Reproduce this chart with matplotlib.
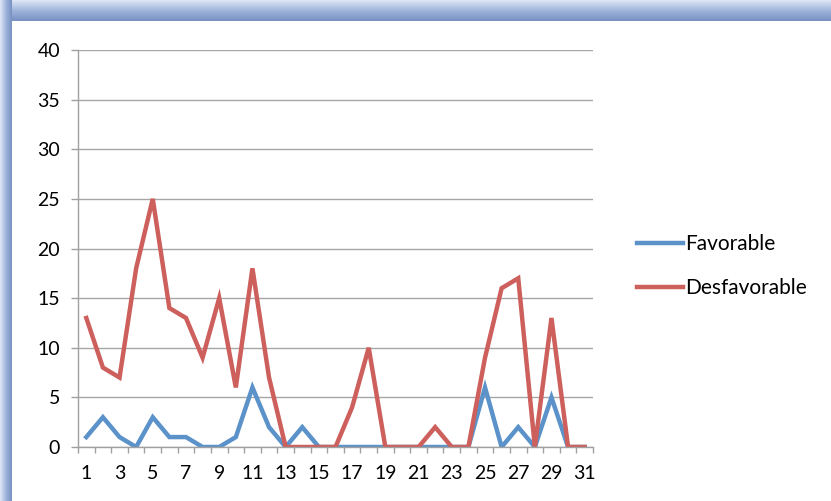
import numpy as np
import matplotlib
matplotlib.use("Agg")
import matplotlib.pyplot as plt
from matplotlib.patches import Rectangle

days = list(range(1, 32))
favorable = [1, 3, 1, 0, 3, 1, 1, 0, 0, 1, 6, 2, 0, 2, 0, 0, 0, 0, 0, 0,
             0, 0, 0, 0, 6, 0, 2, 0, 5, 0, 0]
desfavorable = [13, 8, 7, 18, 25, 14, 13, 9, 15, 6, 18, 7, 0, 0, 0, 0, 4, 10, 0, 0,
                0, 2, 0, 0, 9, 16, 17, 0, 13, 0, 0]
series_names = ["Favorable", "Desfavorable"]
y_ticks = [0, 5, 10, 15, 20, 25, 30, 35, 40]

W, H = 831, 501
plt.rcParams['font.family'] = ['Lato', 'DejaVu Sans']

fig = plt.figure(figsize=(W / 100, H / 100), dpi=100)

# window-like blue frame at top and left
bg = fig.add_axes([0, 0, 1, 1])
bg.set_xlim(0, W)
bg.set_ylim(H, 0)
bg.axis('off')
grad = np.linspace(0, 1, 64)
top = np.outer(grad, np.ones(2))
cmap = matplotlib.colors.LinearSegmentedColormap.from_list(
    'frame', ['#dfe7f5', '#9fb4dc', '#7891c2'])
bg.imshow(top, extent=[0, W, 21, 0], cmap=cmap, aspect='auto')
bg.imshow(top.T, extent=[0, 12, H, 0], cmap=cmap, aspect='auto')
bg.add_patch(Rectangle((12, 21), W, H, facecolor='white', edgecolor='none'))

ax = fig.add_axes([78 / W, 1 - 447 / H, (593 - 78) / W, (447 - 50) / H])
ax.set_facecolor('none')
x = np.array(days)
l1, = ax.plot(x, favorable, color='#5b92c9', lw=3.2, solid_joinstyle='miter',
              label=series_names[0])
l2, = ax.plot(x, desfavorable, color='#cd5f5c', lw=3.2, solid_joinstyle='miter',
              label=series_names[1])

ax.set_xlim(0.5, 31.5)
ax.set_ylim(0, 40)
ax.set_yticks(y_ticks)
ax.set_xticks(days[::2])
ax.set_xticks(np.arange(0.5, 32, 1), minor=True)
ax.tick_params(axis='x', which='major', length=0, labelsize=14, pad=13)
ax.tick_params(axis='x', which='minor', length=4.5, width=1, color='#a0a0a0', direction='out')
ax.tick_params(axis='y', length=5, width=1, color='#a0a0a0', labelsize=14, pad=8)
ax.yaxis.grid(True, color='#a6a6a6', lw=1)
ax.set_axisbelow(True)
for s in ['top', 'right']:
    ax.spines[s].set_visible(False)
for s in ['left', 'bottom']:
    ax.spines[s].set_color('#a0a0a0')
    ax.spines[s].set_linewidth(1)

fig.legend(handles=[l1, l2], loc='upper left', bbox_to_anchor=(629 / W, 1 - 226 / H),
           frameon=False, fontsize=15, handlelength=2.2, handletextpad=0.1,
           labelspacing=1.15, borderaxespad=0)

fig.savefig('out.png', dpi=100)
